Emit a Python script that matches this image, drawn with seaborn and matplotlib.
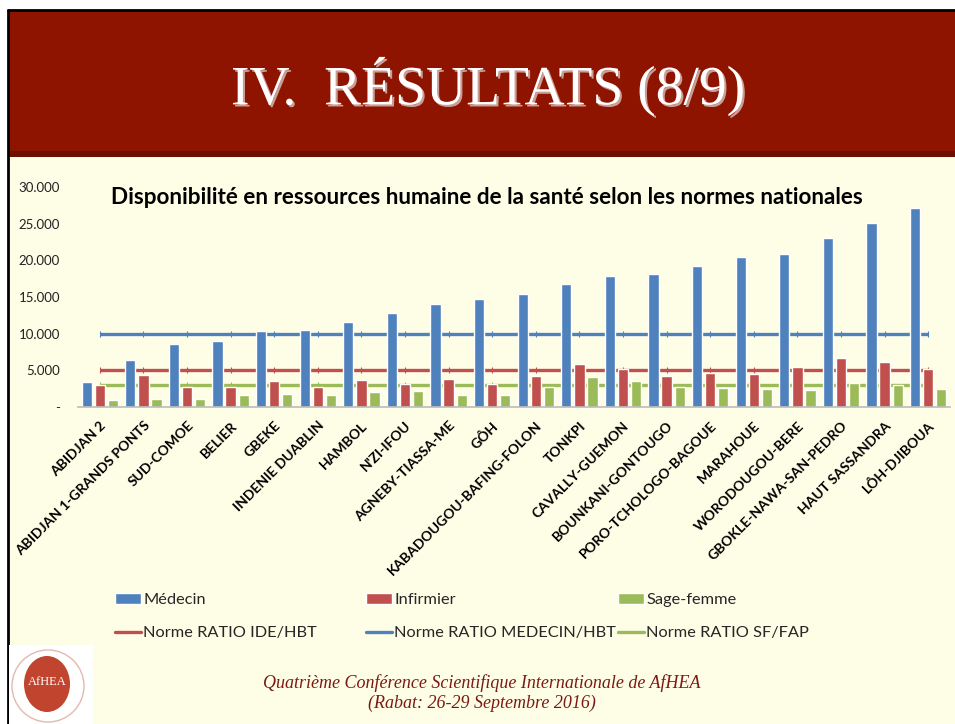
import pandas as pd
import matplotlib
matplotlib.use("Agg")
import matplotlib.pyplot as plt
import matplotlib.patheffects as pe
from matplotlib.patches import Rectangle, Patch, Ellipse
from matplotlib.lines import Line2D
from matplotlib.ticker import FuncFormatter
import seaborn as sns

# --- data ---
regions = ["ABIDJAN 2", "ABIDJAN 1-GRANDS PONTS", "SUD-COMOE", "BELIER", "GBEKE",
           "INDENIE DUABLIN", "HAMBOL", "N'ZI-IFOU", "AGNEBY-TIASSA-ME", "GÔH",
           "KABADOUGOU-BAFING-FOLON", "TONKPI", "CAVALLY-GUEMON", "BOUNKANI-GONTOUGO",
           "PORO-TCHOLOGO-BAGOUE", "MARAHOUE", "WORODOUGOU-BERE", "GBOKLE-NAWA-SAN-PEDRO",
           "HAUT SASSANDRA", "LÔH-DJIBOUA"]
medecin = [3400, 6400, 8600, 9000, 10300, 10500, 11600, 12800, 14000, 14700,
           15400, 16800, 17900, 18100, 19200, 20500, 20900, 23000, 25100, 27100]
infirmier = [2950, 4350, 2750, 2750, 3600, 2750, 3750, 3200, 3850, 3100,
             4200, 5800, 5200, 4200, 4700, 4500, 5500, 6700, 6200, 5200]
sage_femme = [1000, 1050, 1150, 1700, 1800, 1600, 2100, 2200, 1700, 1700,
              2750, 4100, 3500, 2750, 2600, 2500, 2300, 3300, 3000, 2400]
norme_medecin = 10000
norme_ide = 5000
norme_sf = 3000

professions = ["Médecin", "Infirmier", "Sage-femme"]
blue, red, green = "#4F81BD", "#C0504D", "#9BBB59"

df = pd.DataFrame({"Région": regions, "Médecin": medecin,
                   "Infirmier": infirmier, "Sage-femme": sage_femme})
long = df.melt(id_vars="Région", var_name="Profession", value_name="Valeur")

sns.set_theme(style="white")
plt.rcParams["font.family"] = ["Lato", "DejaVu Sans"]

W, H = 955, 724
fig = plt.figure(figsize=(W / 100, H / 100), dpi=100, facecolor="white")

def fx(px):
    return px / W

def fy(py):
    return 1 - py / H

# slide background, banner and border
fig.add_artist(Rectangle((fx(8), 0), 1, fy(157), transform=fig.transFigure,
                         facecolor="#FEFDE6", edgecolor="none", zorder=-10))
fig.add_artist(Rectangle((fx(8), fy(157)), 1, (157 - 10) / H, transform=fig.transFigure,
                         facecolor="#8E1400", edgecolor="none", zorder=-9))
fig.add_artist(Rectangle((fx(8), fy(157)), 1, 6 / H, transform=fig.transFigure,
                         facecolor="#6E0E00", edgecolor="none", zorder=-8))
fig.add_artist(Line2D([fx(8), fx(8)], [0, fy(10)], transform=fig.transFigure,
                      color="black", lw=2, zorder=-7))
fig.add_artist(Line2D([fx(8), 1], [fy(10), fy(10)], transform=fig.transFigure,
                      color="black", lw=2, zorder=-7))

fig.text(fx(488), fy(86), "IV.  RÉSULTATS (8/9)", ha="center", va="center",
         family="Liberation Serif", fontsize=40, color="white",
         path_effects=[pe.SimplePatchShadow(offset=(1.5, -1.5), shadow_rgbFace="#d8c2bd", alpha=0.8),
                       pe.Normal()])

# chart
ax = fig.add_axes([fx(78), fy(407), fx(950) - fx(78), fy(187) - fy(407)])
ax.patch.set_alpha(0)

x = range(len(regions))
line_kw = dict(lw=2.4, marker="|", ms=4, mew=0.8, solid_capstyle="butt", zorder=1)
ax.plot(x, [norme_medecin] * len(regions), color=blue, **line_kw)
ax.plot(x, [norme_ide] * len(regions), color=red, **line_kw)
ax.plot(x, [norme_sf] * len(regions), color=green, **line_kw)

sns.barplot(data=long, x="Région", y="Valeur", hue="Profession", hue_order=professions,
            palette=[blue, red, green], saturation=1, width=0.9, gap=0.22,
            legend=False, ax=ax, zorder=2)

ax.set_xlim(-0.5, len(regions) - 0.5)
ax.set_ylim(0, 30000)
ax.set_yticks(range(0, 30001, 5000))
ax.yaxis.set_major_formatter(FuncFormatter(
    lambda v, _: "-" if v == 0 else f"{int(v):,}".replace(",", ".")))
ax.tick_params(axis="y", length=0, pad=13, labelsize=9.5, labelcolor="#222222")
ax.tick_params(axis="x", length=0, pad=9)
ax.set_xticks(list(x))
ax.set_xticklabels(regions, rotation=45, ha="right", va="top", rotation_mode="anchor",
                   fontsize=10, fontweight="bold", color="black")
ax.set_xlabel("")
ax.set_ylabel("")
for s in ["left", "top", "right"]:
    ax.spines[s].set_visible(False)
ax.spines["bottom"].set_color("#BBBBBB")
ax.spines["bottom"].set_linewidth(1.2)

fig.text(fx(487), fy(197), "Disponibilité en ressources humaine de la santé selon les normes nationales",
         ha="center", va="center", fontsize=16.2, fontweight="bold", color="black")

# legend: three columns laid out like the Excel legend
cols = [
    (115, [Patch(facecolor=blue), Line2D([], [], color=red, lw=2.4)],
     ["Médecin", "Norme RATIO IDE/HBT"]),
    (366, [Patch(facecolor=red), Line2D([], [], color=blue, lw=2.4)],
     ["Infirmier", "Norme RATIO MEDECIN/HBT"]),
    (618, [Patch(facecolor=green), Line2D([], [], color=green, lw=2.4)],
     ["Sage-femme", "Norme RATIO SF/FAP"]),
]
for xpx, handles, labels in cols:
    fig.legend(handles, labels, loc="upper left", bbox_to_anchor=(fx(xpx), fy(593)),
               bbox_transform=fig.transFigure, frameon=False, fontsize=11.8,
               handlelength=1.6, handleheight=0.68, handletextpad=0.12,
               labelspacing=1.13, borderpad=0, borderaxespad=0)

# footer
fig.text(fx(482), fy(683), "Quatrième Conférence Scientifique Internationale de AfHEA",
         ha="center", va="center", family="Liberation Serif", style="italic",
         fontsize=13, color="#7B1A12")
fig.text(fx(482), fy(703), "(Rabat: 26-29 Septembre 2016)",
         ha="center", va="center", family="Liberation Serif", style="italic",
         fontsize=13, color="#7B1A12")

# logo
fig.add_artist(Rectangle((fx(9), 0), fx(84), (724 - 645) / H, transform=fig.transFigure,
                         facecolor="white", edgecolor="none", zorder=-6))
fig.add_artist(Ellipse((fx(48), fy(686)), fx(72), 72 / H, transform=fig.transFigure,
                       facecolor="none", edgecolor="#E3B9AF", lw=1, zorder=-5))
fig.add_artist(Ellipse((fx(47), fy(684)), fx(46), 56 / H, transform=fig.transFigure,
                       facecolor="#C0442E", edgecolor="none", zorder=-5))
fig.text(fx(47), fy(682), "AfHEA", ha="center", va="center", family="Liberation Serif",
         fontsize=9, color="white")

fig.savefig("out.png", dpi=100, facecolor="white")
